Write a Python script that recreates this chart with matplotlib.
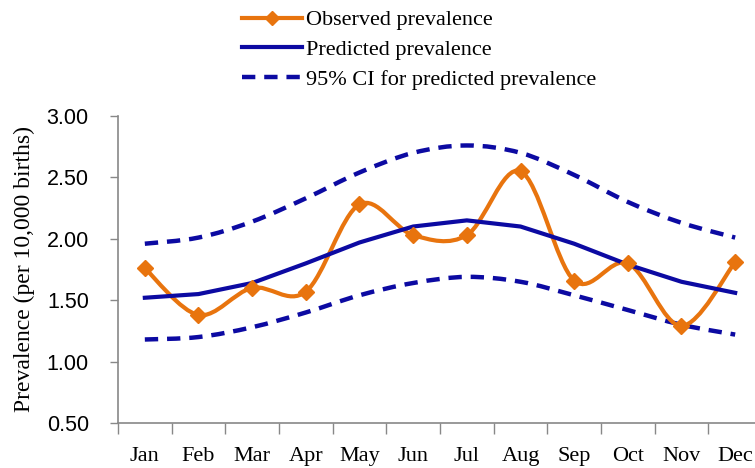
import numpy as np
import matplotlib.pyplot as plt
from matplotlib.path import Path
from matplotlib.patches import PathPatch
from matplotlib.lines import Line2D

months = ['Jan', 'Feb', 'Mar', 'Apr', 'May', 'Jun', 'Jul', 'Aug', 'Sep', 'Oct', 'Nov', 'Dec']
observed = [1.76, 1.38, 1.60, 1.57, 2.28, 2.03, 2.03, 2.55, 1.66, 1.80, 1.29, 1.81]
predicted = [1.52, 1.55, 1.64, 1.80, 1.97, 2.10, 2.15, 2.10, 1.96, 1.79, 1.65, 1.56]
ci_upper = [1.96, 2.01, 2.14, 2.33, 2.54, 2.70, 2.76, 2.70, 2.52, 2.30, 2.13, 2.01]
ci_lower = [1.18, 1.20, 1.28, 1.40, 1.54, 1.64, 1.69, 1.65, 1.54, 1.42, 1.30, 1.22]

orange = '#E8740E'
navy = '#0C0AA2'


def smooth_path(x, y):
    # Excel-style smoothed line: Catmull-Rom segments as cubic Bezier curves
    pts = np.column_stack([x, y]).astype(float)
    verts = [pts[0]]
    codes = [Path.MOVETO]
    n = len(pts)
    for i in range(n - 1):
        p0 = pts[i - 1] if i > 0 else pts[i]
        p1 = pts[i]
        p2 = pts[i + 1]
        p3 = pts[i + 2] if i + 2 < n else pts[i + 1]
        c1 = p1 + (p2 - p0) / 6.0
        c2 = p2 - (p3 - p1) / 6.0
        verts += [c1, c2, p2]
        codes += [Path.CURVE4] * 3
    return Path(verts, codes)


fig = plt.figure(figsize=(7.55, 4.68), dpi=100)
ax = fig.add_axes([118 / 755, 1 - 423 / 468, 644 / 755, 307 / 468])

x = np.arange(len(months))

# confidence interval (smoothed, dashed)
for band in (ci_upper, ci_lower):
    ax.add_patch(PathPatch(smooth_path(x, band), facecolor='none', edgecolor=navy,
                           lw=3.2, linestyle=(0, (3.0, 2.0)), capstyle='butt'))

# predicted (straight segments)
ax.plot(x, predicted, color=navy, lw=3.0, solid_joinstyle='round')

# observed (smoothed with diamonds)
ax.add_patch(PathPatch(smooth_path(x, observed), facecolor='none', edgecolor=orange,
                       lw=3.0, capstyle='round'))
ax.plot(x, observed, linestyle='none', marker='D', color=orange, markersize=8)

ax.set_xlim(-0.5, 11.5)
ax.set_ylim(0.5, 3.0)
ax.set_yticks([0.5, 1.0, 1.5, 2.0, 2.5, 3.0])
ax.set_yticklabels(['%.2f' % v for v in ax.get_yticks()], fontfamily='Liberation Sans', fontsize=15.5)
ax.set_xticks(np.arange(-0.5, 12, 1.0))
ax.set_xticklabels([])
ax.set_xticks(x, minor=True)
ax.set_xticklabels(months, minor=True, fontfamily='Liberation Serif', fontsize=16)
ax.tick_params(axis='x', which='minor', length=0, pad=17.5)
ax.tick_params(axis='x', which='major', length=8, color='#888888', width=1)
ax.tick_params(axis='y', length=6, color='#888888', width=1, pad=15)

for side in ('top', 'right'):
    ax.spines[side].set_visible(False)
for side in ('left', 'bottom'):
    ax.spines[side].set_color('#888888')
    ax.spines[side].set_linewidth(1.2)

ax.set_ylabel('Prevalence (per 10,000 births)', fontfamily='Liberation Serif', fontsize=17, labelpad=8)

handles = [
    Line2D([], [], color=orange, lw=3.0, marker='D', markersize=7),
    Line2D([], [], color=navy, lw=3.0),
    Line2D([], [], color=navy, lw=3.2, linestyle=(0, (3.0, 2.0))),
]
labels = ['Observed prevalence', 'Predicted prevalence', '95% CI for predicted prevalence']
fig.legend(handles, labels, loc='upper left', bbox_to_anchor=(233 / 755, 0.998), frameon=False,
           prop={'family': 'Liberation Serif', 'size': 16}, handlelength=2.7, handletextpad=0.2,
           labelspacing=0.42, borderaxespad=0)

fig.savefig('out.png', dpi=100)
